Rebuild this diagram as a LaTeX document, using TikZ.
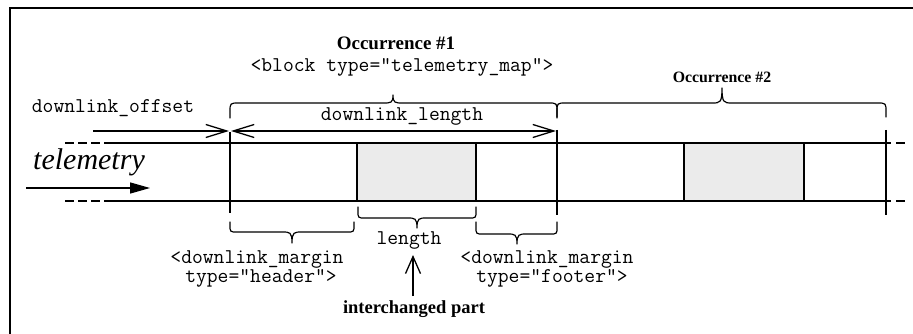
\documentclass[tikz,border=0pt]{standalone}
\usepackage{fontspec}
\setmainfont{Liberation Serif}
\usetikzlibrary{arrows.meta}

% curly brace: x1, x2, tip x, y at the ends, y of the bar, y of the tip, corner radius
\newcommand\curlybrace[7]{%
  \draw[bracepath] (#1,#4) -- (#1,{#5+#7*sign(#4-#5)})
    .. controls (#1,#5) .. ({#1+#7},#5) -- ({#3-10},#5)
    .. controls ({#3-2},#5) and (#3,#5) .. (#3,#6)
    .. controls (#3,#5) and ({#3+2},#5) .. ({#3+10},#5)
    -- ({#2-#7},#5) .. controls (#2,#5) .. (#2,{#5+#7*sign(#4-#5)}) -- (#2,#4);}

\begin{document}
\begin{tikzpicture}[x=1pt,y=-1pt,line width=1.3pt,
  mono/.style={font=\fontsize{21}{23}\selectfont\ttfamily,inner sep=0pt,anchor=base},
  boldlabel/.style={font=\fontsize{19}{21}\selectfont\bfseries,inner sep=0pt,anchor=base},
  bracepath/.style={line width=1.2pt,line cap=round,line join=round},
  barb/.style={-{Straight Barb[length=21pt,width=13pt]}},
  doublebarb/.style={{Straight Barb[length=21pt,width=13pt]}-{Straight Barb[length=21pt,width=13pt]}},
  upbarb/.style={-{Straight Barb[length=17pt,width=15pt]}},
  flowarrow/.style={-{Triangle[length=20pt,width=11pt]}},
  extension/.style={dash pattern=on 9pt off 4pt},
  payload/.style={fill=black!8,draw=black}]
\useasboundingbox (0,0) rectangle (913,334);

% frame
\draw[line width=2pt] (10,334) -- (10,8) -- (913,8);

% payload areas
\filldraw[payload] (357,143) rectangle (476,201);
\filldraw[payload] (684,143) rectangle (804,201);

% telemetry stream
\draw (113,143) -- (891,143);
\draw (113,201) -- (891,201);
\draw[extension] (65,143) -- (113,143);
\draw[extension] (65,201) -- (113,201);
\draw (896,143) -- (905,143);
\draw (896,201) -- (905,201);

% occurrence boundaries
\draw (230,132) -- (230,213);
\draw (557,130) -- (557,215);
\draw (886,130) -- (886,215);

% braces above the stream
\curlybrace{230}{557}{393}{118}{103}{95}{9}
\curlybrace{557}{886}{722}{117}{103}{88}{9}
% braces below the stream
\curlybrace{230}{354}{292}{222}{232}{243}{7}
\curlybrace{358}{476}{417}{207}{218}{228}{7}
\curlybrace{476}{557}{517}{222}{234}{244}{7}

% labels
\node[boldlabel] (occ1) at (396,50) {Occurrence \#1};
\node[mono] (blk) at (402,72) {<block type="telemetry\_map">};
\node[boldlabel,font=\fontsize{15.8}{18}\selectfont\bfseries] (occ2) at (722,83) {Occurrence \#2};
\node[mono] (offtxt) at (113,113) {downlink\_offset};
\node[mono] (lentxt) at (402,121) {downlink\_length};
\node[inner sep=0pt,anchor=base,font=\fontsize{30}{32}\selectfont\itshape] (tele) at (89,169) {telemetry};
\node[mono] (hdr1) at (257,263) {<downlink\_margin};
\node[mono] (hdr2) at (261,282) {type="header">};
\node[mono] (ftr1) at (547,263) {<downlink\_margin};
\node[mono] (ftr2) at (552,282) {type="footer">};
\node[mono] (lenpart) at (409,244) {length};
\node[boldlabel,font=\fontsize{18.5}{20}\selectfont\bfseries] (inter) at (414,313) {interchanged part};

% arrows
\coordinate (offA) at (93,131);
\coordinate (offB) at (229,131);
\coordinate (lenA) at (231,131);
\coordinate (lenB) at (556,131);
\coordinate (flowA) at (26,188);
\coordinate (flowB) at (150,188);
\coordinate (upA) at (413,296);
\coordinate (upB) at (413,255);
\draw[barb] (offA) -- (offB);
\draw[doublebarb] (lenA) -- (lenB);
\draw[flowarrow] (flowA) -- (flowB);
\draw[upbarb] (upA) -- (upB);
\end{tikzpicture}
\end{document}
